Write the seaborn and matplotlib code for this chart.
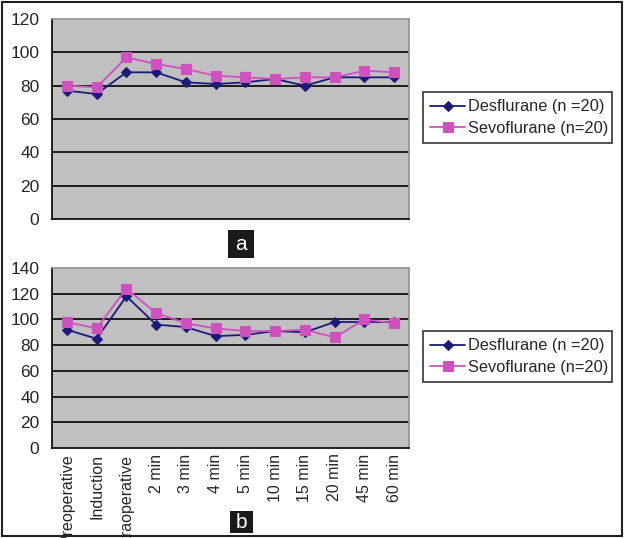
import seaborn as sns
import pandas as pd
import matplotlib.pyplot as plt
from matplotlib.patches import Rectangle

# Data
time_points = ['Preoperative', 'Induction', 'Intraoperative', '2 min', '3 min', '4 min',
               '5 min', '10 min', '15 min', '20 min', '45 min', '60 min']
des_a = [77, 75, 88, 88, 82, 81, 82, 84, 80, 85, 85, 85]
sevo_a = [80, 79, 97, 93, 90, 86, 85, 84, 85, 85, 89, 88]
des_b = [92, 85, 118, 96, 94, 87, 88, 91, 90, 98, 98, 98]
sevo_b = [98, 93, 124, 105, 97, 93, 91, 91, 92, 86, 100, 97]
series_names = ['Desflurane (n =20)', 'Sevoflurane (n=20)']

sns.set_style('white')
plt.rcParams['font.family'] = ['Liberation Sans', 'DejaVu Sans']

W, H = 624, 538
fig = plt.figure(figsize=(W / 100, H / 100), dpi=100)

def px_axes(x0, y0, x1, y1):
    # pixel box (top-left origin) -> figure axes
    return fig.add_axes([x0 / W, 1 - y1 / H, (x1 - x0) / W, (y1 - y0) / H])

colors = ['#1a1a7a', '#d050c0']
markers = ['D', 's']

def draw_panel(ax, des, sevo, ymax, show_labels):
    df = pd.DataFrame({
        'pos': list(range(len(time_points))) * 2,
        'value': des + sevo,
        'group': [series_names[0]] * len(des) + [series_names[1]] * len(sevo),
    })
    for name, col, mk, ms in zip(series_names, colors, markers, [5, 7]):
        sub = df[df['group'] == name]
        sns.lineplot(data=sub, x='pos', y='value', ax=ax, color=col, marker=mk,
                     markersize=ms, markeredgecolor=col, linewidth=1.3, label=name,
                     legend=False)
    ax.set_facecolor('#c0c0c0')
    ax.set_xlim(-0.5, len(time_points) - 0.5)
    ax.set_ylim(0, ymax)
    ax.set_yticks(range(0, ymax + 1, 20))
    for y in range(20, ymax, 20):
        ax.axhline(y, color='black', linewidth=1.2, zorder=0.5)
    ax.set_xticks([i - 0.5 for i in range(len(time_points) + 1)], minor=True)
    ax.set_xticks(range(len(time_points)))
    if show_labels:
        ax.set_xticklabels(time_points, rotation=90, fontsize=11.5, va='top')
    else:
        ax.set_xticklabels([])
    ax.tick_params(axis='x', which='major', length=0, pad=4)
    ax.tick_params(axis='x', which='minor', length=5, width=1.2, color='black', direction='out')
    ax.tick_params(axis='y', length=5, width=1.2, color='black', direction='out', labelsize=12.5, pad=4)
    ax.set_xlabel('')
    ax.set_ylabel('')
    for side in ['left', 'bottom']:
        ax.spines[side].set_color('black')
        ax.spines[side].set_linewidth(1.2)
    for side in ['top', 'right']:
        ax.spines[side].set_color('#909090')
        ax.spines[side].set_linewidth(1.2)

ax_a = px_axes(52, 19, 409, 219)
draw_panel(ax_a, des_a, sevo_a, 120, False)
ax_b = px_axes(52, 268, 409, 448)
draw_panel(ax_b, des_b, sevo_b, 140, True)

# Legends
for ax, (x0, y0, x1, y1) in [(ax_a, (423, 92, 612, 147)), (ax_b, (423, 331, 612, 385))]:
    handles, labels = ax.get_legend_handles_labels()
    leg = fig.legend(handles, labels, loc='upper left',
                     bbox_to_anchor=(x0 / W, 1 - y1 / H, (x1 - x0) / W, (y1 - y0) / H),
                     mode='expand', fontsize=11.8, frameon=True, fancybox=False,
                     edgecolor='black', handlelength=2.1, handletextpad=0.2,
                     borderpad=0.45, labelspacing=0.4, borderaxespad=0)
    leg.get_frame().set_linewidth(1.2)

# Panel letters
for letter, (x0, y0, x1, y1) in [('a', (228, 230, 254, 258)), ('b', (230, 511, 253, 533))]:
    fig.patches.append(Rectangle((x0 / W, 1 - y1 / H), (x1 - x0) / W, (y1 - y0) / H,
                                 transform=fig.transFigure, facecolor='#1a1a1a',
                                 edgecolor='none', zorder=5))
    fig.text((x0 + x1) / 2 / W, 1 - (y0 + y1) / 2 / H, letter, color='white',
             fontsize=15, ha='center', va='center', zorder=6)

# Outer frame
fig.patches.append(Rectangle((2 / W, 2 / H), (W - 4) / W, (H - 4) / H,
                             transform=fig.transFigure, fill=False,
                             edgecolor='#222222', linewidth=1.5, zorder=10))

plt.savefig('out.png', dpi=100)
